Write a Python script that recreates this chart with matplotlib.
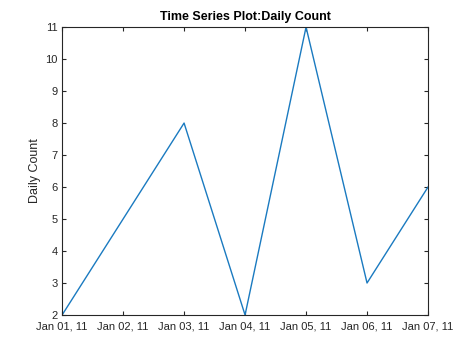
import matplotlib
matplotlib.use("Agg")
import matplotlib.pyplot as plt
import matplotlib.dates as mdates
import datetime as dt

dates = [dt.datetime(2011, 1, d) for d in range(1, 8)]
counts = [2, 5, 8, 2, 11, 3, 6]
title = "Time Series Plot:Daily Count"
ylabel = "Daily Count"

plt.rcParams['font.family'] = ['Liberation Sans', 'DejaVu Sans']
fig = plt.figure(figsize=(4.74, 3.55), dpi=100)
ax = fig.add_axes([0.131, 0.1127, 0.772, 0.811])
ax.plot(dates, counts, color='#1a7ac0', lw=1.0)
ax.set_xlim(dates[0], dates[-1])
ax.set_ylim(2, 11)
ax.set_yticks(range(2, 12))
ax.xaxis.set_major_locator(mdates.DayLocator())
ax.xaxis.set_major_formatter(mdates.DateFormatter('%b %d, %y'))
c = '#262626'
for s in ax.spines.values():
    s.set_color(c)
    s.set_linewidth(0.8)
ax.tick_params(direction='in', length=3, width=0.8, colors=c, labelsize=8,
               top=True, right=True)
ax.tick_params(axis='x', pad=5)
ax.tick_params(axis='y', pad=3)
ax.set_ylabel(ylabel, fontsize=9, color=c, labelpad=3)
ax.set_title(title, fontsize=9, fontweight='bold', color='black', pad=5)
fig.savefig("out.png", dpi=100)
